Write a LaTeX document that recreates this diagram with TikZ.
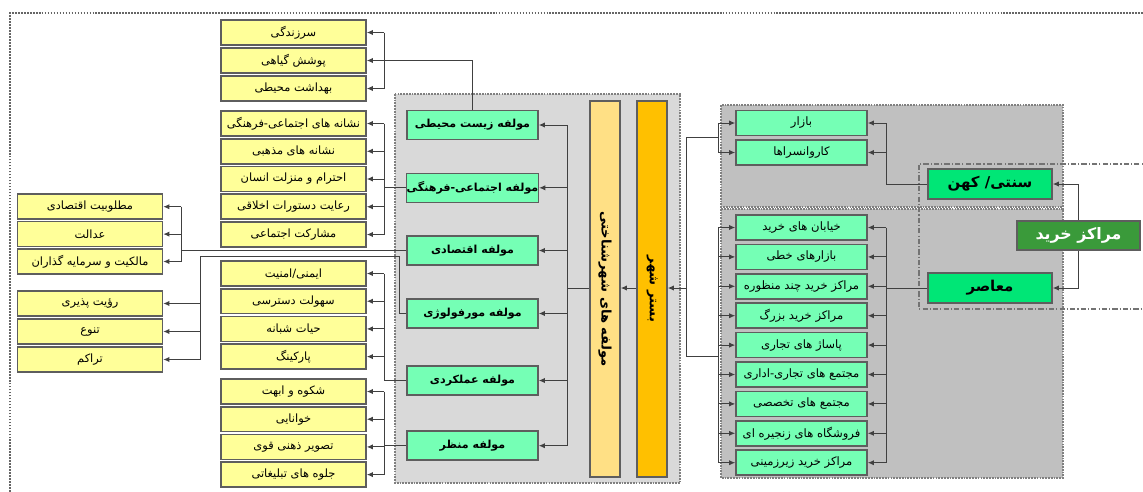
\documentclass[tikz,border=0pt]{standalone}
\usepackage{fontspec}
\usepackage{graphicx}
\usetikzlibrary{arrows.meta}
\TeXXeTstate=1
\newfontfamily\ar[Script=Arabic]{DejaVu Sans}
\newcommand{\fa}[1]{\beginR #1\endR}
\definecolor{yel}{HTML}{FFFF99}
\definecolor{mint}{HTML}{75FFB5}
\definecolor{bgreen}{HTML}{00E676}
\definecolor{dgreen}{HTML}{3A9A3A}
\definecolor{lyel}{HTML}{FFE085}
\definecolor{orng}{HTML}{FFC000}
\definecolor{boxb}{HTML}{5E5E5E}
\definecolor{lnc}{HTML}{404040}
\definecolor{pmid}{HTML}{D9D9D9}
\definecolor{pright}{HTML}{C0C0C0}
\tikzset{
  x=0.02cm, y=-0.02cm,
  base/.style={draw=boxb, line width=0.9pt, inner sep=0pt, align=center},
  ybox/.style={base, fill=yel, minimum width=2.9cm, minimum height=0.5cm, font=\ar\fontsize{6.5}{8}\selectfont},
  mbox/.style={base, fill=mint, minimum width=2.62cm, minimum height=0.58cm, font=\ar\bfseries\fontsize{6.3}{8}\selectfont},
  gbox/.style={base, fill=mint, minimum width=2.62cm, minimum height=0.5cm, font=\ar\fontsize{6.6}{8}\selectfont},
  tbox/.style={base, fill=bgreen, minimum width=2.48cm, minimum height=0.59cm, font=\ar\bfseries\fontsize{8.5}{10}\selectfont},
  vbox/.style={base, minimum width=0.6cm, minimum height=7.52cm, font=\ar\bfseries\fontsize{7.5}{9}\selectfont},
  kbox/.style={base, fill=dgreen, text=white, minimum width=2.46cm, minimum height=0.58cm, font=\ar\bfseries\fontsize{9}{10}\selectfont},
  conn/.style={draw=lnc, line width=0.55pt},
  arr/.style={conn, -{Latex[length=3.5pt,width=3pt]}},
  panel/.style={draw=gray, line width=0.6pt, dash pattern=on 1pt off 0.6pt},
}
\begin{document}
\begin{tikzpicture}
\useasboundingbox (0,0) rectangle (1143,491);
% outer border
\draw[draw=gray!80!black, line width=0.6pt, dash pattern=on 1pt off 0.7pt] (10,495) -- (10,13) -- (1150,13);
% panels
\draw[panel, fill=pmid] (395,94) rectangle (680,483);
\draw[panel, fill=pright] (721,105) rectangle (1063,207);
\draw[panel, fill=pright] (721,209) rectangle (1063,478);
\draw[draw=gray!90!black, line width=0.6pt, dash pattern=on 3pt off 1.2pt on 0.6pt off 1.2pt] (1150,164) -- (919,164) -- (919,309) -- (1150,309);

% column 2 boxes
\node[ybox] (a1) at (293.5,32.5) {\fa{سرزندگی}};
\node[ybox] (a2) at (293.5,60.5) {\fa{پوشش گیاهی}};
\node[ybox] (a3) at (293.5,88.5) {\fa{بهداشت محیطی}};
\node[ybox] (a4) at (293.5,123.5) {\fa{نشانه های اجتماعی-فرهنگی}};
\node[ybox] (a5) at (293.5,151.25) {\fa{نشانه های مذهبی}};
\node[ybox] (a6) at (293.5,179) {\fa{احترام و منزلت انسان}};
\node[ybox] (a7) at (293.5,206.75) {\fa{رعایت دستورات اخلاقی}};
\node[ybox] (a8) at (293.5,234.5) {\fa{مشارکت اجتماعی}};
\node[ybox] (a9) at (293.5,273.5) {\fa{ایمنی/امنیت}};
\node[ybox] (a10) at (293.5,301.2) {\fa{سهولت دسترسی}};
\node[ybox] (a11) at (293.5,328.9) {\fa{حیات شبانه}};
\node[ybox] (a12) at (293.5,356.6) {\fa{پارکینگ}};
\node[ybox] (a13) at (293.5,391.5) {\fa{شکوه و ابهت}};
\node[ybox] (a14) at (293.5,419.2) {\fa{خوانایی}};
\node[ybox] (a15) at (293.5,446.9) {\fa{تصویر ذهنی قوی}};
\node[ybox] (a16) at (293.5,474.6) {\fa{جلوه های تبلیغاتی}};

% column 1 boxes
\node[ybox] (c1) at (90,206.7) {\fa{مطلوبیت اقتصادی}};
\node[ybox] (c2) at (90,234.1) {\fa{عدالت}};
\node[ybox] (c3) at (90,261.5) {\fa{مالکیت و سرمایه گذاران}};
\node[ybox] (c4) at (90,303.5) {\fa{رؤیت پذیری}};
\node[ybox] (c5) at (90,331.5) {\fa{تنوع}};
\node[ybox] (c6) at (90,359.5) {\fa{تراکم}};

% middle green boxes
\node[mbox] (z1) at (472.5,125) {\fa{مولفه زیست محیطی}};
\node[mbox] (z2) at (472.5,187.8) {\fa{مولفه اجتماعی-فرهنگی}};
\node[mbox] (z3) at (472.5,250.5) {\fa{مولفه اقتصادی}};
\node[mbox] (z4) at (472.5,313.5) {\fa{مولفه مورفولوژی}};
\node[mbox] (z5) at (472.5,380.5) {\fa{مولفه عملکردی}};
\node[mbox] (z6) at (472.5,445.7) {\fa{مولفه منظر}};

% vertical boxes
\node[vbox, fill=lyel] (v1) at (605,289) {\rotatebox{-90}{\fa{مولفه های شهرشناختی}}};
\node[vbox, fill=orng] (v2) at (652,289) {\rotatebox{-90}{\fa{بستر شهر}}};

% right green boxes
\node[gbox] (g1) at (801.5,123) {\fa{بازار}};
\node[gbox] (g2) at (801.5,152.5) {\fa{کاروانسراها}};
\node[gbox] (g3) at (801.5,227.5) {\fa{خیابان های خرید}};
\node[gbox] (g4) at (801.5,256.9) {\fa{بازارهای خطی}};
\node[gbox] (g5) at (801.5,286.3) {\fa{مراکز خرید چند منظوره}};
\node[gbox] (g6) at (801.5,315.7) {\fa{مراکز خرید بزرگ}};
\node[gbox] (g7) at (801.5,345.1) {\fa{پاساژ های تجاری}};
\node[gbox] (g8) at (801.5,374.5) {\fa{مجتمع های تجاری-اداری}};
\node[gbox] (g9) at (801.5,403.9) {\fa{مجتمع های تخصصی}};
\node[gbox] (g10) at (801.5,433.3) {\fa{فروشگاه های زنجیره ای}};
\node[gbox] (g11) at (801.5,462.7) {\fa{مراکز خرید زیرزمینی}};

\node[tbox] (t1) at (990,184) {\fa{سنتی/ کهن}};
\node[tbox] (t2) at (990,288) {\fa{معاصر}};
\node[kbox] (k) at (1078.5,235.5) {\fa{مراکز خرید}};

% coordinates
\coordinate (mid) at (0,288);
\coordinate (b1) at (384,60.5);
\coordinate (b2) at (384,187.8);
\coordinate (b3) at (181,250.5);
\coordinate (kk) at (399,256);
\coordinate (b4) at (200,256);
\coordinate (b5) at (384,380.5);
\coordinate (b6) at (384,445.7);
\coordinate (m1) at (567,288);
\coordinate (rl1) at (686,137.7);
\coordinate (rl2) at (686,356);
\coordinate (ub) at (718,137.7);
\coordinate (lb) at (718,356);
\coordinate (tb1) at (886,184);
\coordinate (tb2) at (886,288);

% left side connectors
\draw[conn] (z1.north) |- (b1);
\draw[conn] (b1 |- a1.east) -- (b1 |- a3.east);
\foreach \n in {a1,a2,a3} \draw[arr] (b1 |- \n.east) -- (\n.east);
\draw[conn] (z2.west) -- (b2);
\draw[conn] (b2 |- a4.east) -- (b2 |- a8.east);
\foreach \n in {a4,a5,a6,a7,a8} \draw[arr] (b2 |- \n.east) -- (\n.east);
\draw[conn] (z3.west) -- (b3);
\draw[conn] (b3 |- c1.east) -- (b3 |- c3.east);
\foreach \n in {c1,c2,c3} \draw[arr] (b3 |- \n.east) -- (\n.east);
\draw[conn] (z4.west) -| (kk) -- (b4) -- (b4 |- c6.east);
\foreach \n in {c4,c5,c6} \draw[arr] (b4 |- \n.east) -- (\n.east);
\draw[conn] (z5.west) -- (b5) -- (b5 |- a9.east);
\foreach \n in {a9,a10,a11,a12} \draw[arr] (b5 |- \n.east) -- (\n.east);
\draw[conn] (z6.west) -- (b6);
\draw[conn] (b6 |- a13.east) -- (b6 |- a16.east);
\foreach \n in {a13,a14,a15,a16} \draw[arr] (b6 |- \n.east) -- (\n.east);

% middle connectors
\draw[conn] (v1.west |- mid) -- (m1);
\draw[conn] (m1 |- z1.east) -- (m1 |- z6.east);
\foreach \n in {z1,z2,z3,z4,z5,z6} \draw[arr] (m1 |- \n.east) -- (\n.east);
\draw[arr] (v2.west |- mid) -- (v1.east |- mid);
\draw[arr] (rl1 |- mid) -- (v2.east |- mid);

% right connectors
\draw[conn] (rl1) -- (rl2);
\draw[conn] (rl1) -- (ub);
\draw[conn] (rl2) -- (lb);
\draw[conn] (ub |- g1.west) -- (ub |- g2.west);
\foreach \n in {g1,g2} \draw[arr] (ub |- \n.west) -- (\n.west);
\draw[conn] (lb |- g3.west) -- (lb |- g11.west);
\foreach \n in {g3,g4,g5,g6,g7,g8,g9,g10,g11} \draw[arr] (lb |- \n.west) -- (\n.west);
\draw[conn] (t1.west) -- (tb1) -- (tb1 |- g1.east);
\foreach \n in {g1,g2} \draw[arr] (tb1 |- \n.east) -- (\n.east);
\draw[conn] (t2.west) -- (tb2);
\draw[conn] (tb2 |- g3.east) -- (tb2 |- g11.east);
\foreach \n in {g3,g4,g5,g6,g7,g8,g9,g10,g11} \draw[arr] (tb2 |- \n.east) -- (\n.east);
\draw[arr] (k.north) |- (t1.east);
\draw[arr] (k.south) |- (t2.east);
\end{tikzpicture}
\end{document}
